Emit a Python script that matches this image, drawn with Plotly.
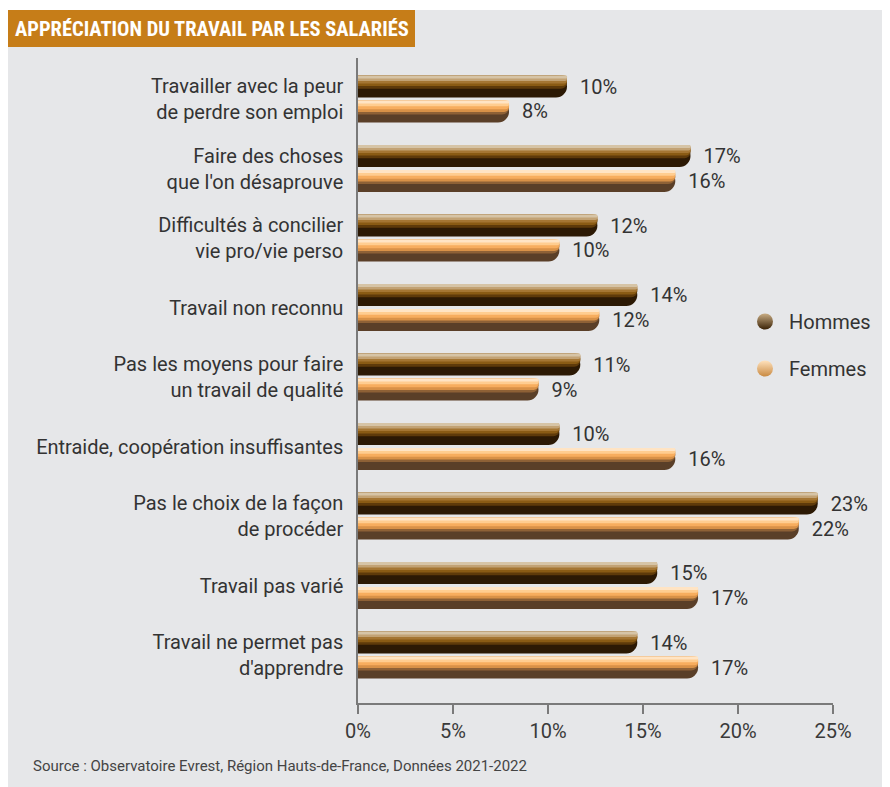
"""
Appréciation du travail par les salariés - barres horizontales Hommes / Femmes.
"""
import plotly.graph_objects as go

# Données
categories = [
    "Travailler avec la peur<br>de perdre son emploi",
    "Faire des choses<br>que l'on désaprouve",
    "Difficultés à concilier<br>vie pro/vie perso",
    "Travail non reconnu",
    "Pas les moyens pour faire<br>un travail de qualité",
    "Entraide, coopération insuffisantes",
    "Pas le choix de la façon<br>de procéder",
    "Travail pas varié",
    "Travail ne permet pas<br>d'apprendre",
]
# longueur des barres telle que dessinée (%)
hommes = [11.0, 17.5, 12.6, 14.7, 11.7, 10.6, 24.2, 15.75, 14.7]
femmes = [7.95, 16.7, 10.6, 12.7, 9.5, 16.7, 23.2, 17.9, 17.9]
# valeurs affichées
hommes_labels = [10, 17, 12, 14, 11, 10, 23, 15, 14]
femmes_labels = [8, 16, 10, 12, 9, 16, 22, 17, 17]
x_ticks = [0, 5, 10, 15, 20, 25]

# Style
PANEL = "#e6e7e9"
BANNER = "#c67d18"
TEXT = "#333333"
AXIS = "#7a7a7a"
FONT = "Roboto, 'Open Sans', sans-serif"

# couches de dégradé : (haut, bas) en fraction de l'épaisseur, couleur
HOMMES_LAYERS = [
    (0.00, 1.00, "#2c1904"),
    (0.00, 0.60, "#5e3a0a"),
    (0.00, 0.48, "#8a5b14"),
    (0.00, 0.36, "#a57633"),
    (0.00, 0.25, "#c2a274"),
    (0.00, 0.13, "#d6c4a6"),
]
FEMMES_LAYERS = [
    (0.00, 1.00, "#5a3f28"),
    (0.00, 0.64, "#8e6136"),
    (0.00, 0.52, "#d89147"),
    (0.00, 0.40, "#f7ad5e"),
    (0.00, 0.26, "#ffcd90"),
    (0.00, 0.14, "#ffe4c4"),
]
BAR_H = 0.317   # épaisseur d'une barre (unités de catégorie)
GAP = 0.021     # demi-écart entre les deux barres

# la page a une marge de 8 px : repères du modèle décalés de 8 px
SHIFT = 8
W, H = 890 - SHIFT, 787 - SHIFT
L, R, T, B = 358 - SHIFT, 833 - SHIFT, 58 - SHIFT, 703 - SHIFT


def px_x(px):
    return (px - SHIFT - L) / (R - L)


def px_y(py):
    return (B - (py - SHIFT)) / (B - T)


fig = go.Figure()


def add_series(values, labels, layers, start):
    for i, (top, bot, colour) in enumerate(layers):
        first = i == 0
        fig.add_trace(go.Bar(
            x=values,
            y=categories,
            orientation="h",
            offset=start + top * BAR_H,
            width=(bot - top) * BAR_H,
            marker=dict(color=colour, line_width=0, cornerradius="50%"),
            text=[f"\u00a0\u00a0{v}%" for v in labels] if first else None,
            textposition="outside" if first else "none",
            textfont=dict(size=20, color=TEXT, family=FONT),
            constraintext="none",
            cliponaxis=False,
            showlegend=False,
            hoverinfo="skip",
        ))


add_series(hommes, hommes_labels, HOMMES_LAYERS, -BAR_H - GAP)
add_series(femmes, femmes_labels, FEMMES_LAYERS, GAP)

# légende (pastilles rondes)
for name, c1, c2 in [("Hommes", "#c9ad84", "#3a2206"), ("Femmes", "#ffe2bd", "#c98a42")]:
    fig.add_trace(go.Scatter(
        x=[None], y=[None],
        mode="markers",
        name=name,
        legendgroup=name,
        marker=dict(symbol="circle", size=22, color=c1,
                    gradient=dict(type="vertical", color=c2)),
    ))

fig.update_layout(
    width=W,
    height=H,
    barmode="group",
    paper_bgcolor="white",
    plot_bgcolor="rgba(0,0,0,0)",
    margin=dict(l=L, r=W - R, t=T, b=H - B),
    font=dict(family=FONT, size=20, color=TEXT),
    showlegend=True,
    legend=dict(
        x=px_x(741), y=px_y(302), xanchor="left", yanchor="top",
        bgcolor="rgba(0,0,0,0)",
        font=dict(size=20, color=TEXT),
        tracegroupgap=18,
        itemwidth=38,
        itemsizing="trace",
    ),
    xaxis=dict(
        range=[0, 25],
        tickvals=x_ticks,
        ticktext=[f"{t}%" for t in x_ticks],
        ticks="outside",
        ticklen=9,
        tickwidth=1.5,
        tickcolor=AXIS,
        showline=True,
        linecolor=AXIS,
        linewidth=1.5,
        showgrid=False,
        zeroline=False,
        tickfont=dict(size=20, color="#3a3a3a"),
    ),
    yaxis=dict(
        type="category",
        categoryorder="array",
        categoryarray=categories,
        range=[8.69, -0.59],
        ticks="",
        ticklabelstandoff=9,
        showline=True,
        linecolor=AXIS,
        linewidth=1.5,
        showgrid=False,
        zeroline=False,
        tickfont=dict(size=20, color=TEXT),
    ),
    shapes=[
        # panneau gris
        dict(type="rect", xref="paper", yref="paper", layer="below",
             x0=px_x(8), x1=px_x(900), y0=px_y(800), y1=px_y(10),
             fillcolor=PANEL, line_width=0),
        # bandeau du titre
        dict(type="rect", xref="paper", yref="paper", layer="below",
             x0=px_x(8), x1=px_x(415), y0=px_y(47), y1=px_y(10),
             fillcolor=BANNER, line_width=0),
    ],
    annotations=[
        dict(text="<b>APPRÉCIATION DU TRAVAIL PAR LES SALARIÉS</b>",
             xref="paper", yref="paper", x=px_x(13), y=px_y(29),
             xanchor="left", yanchor="middle", showarrow=False,
             font=dict(family="'Liberation Sans Narrow', 'Roboto Condensed', Roboto",
                       size=20.5, color="white")),
        dict(text="Source : Observatoire Evrest, Région Hauts-de-France, Données 2021-2022",
             xref="paper", yref="paper", x=px_x(31), y=px_y(766),
             xanchor="left", yanchor="middle", showarrow=False,
             font=dict(size=15, color="#444444")),
    ],
)

fig.write_html("out.html")
